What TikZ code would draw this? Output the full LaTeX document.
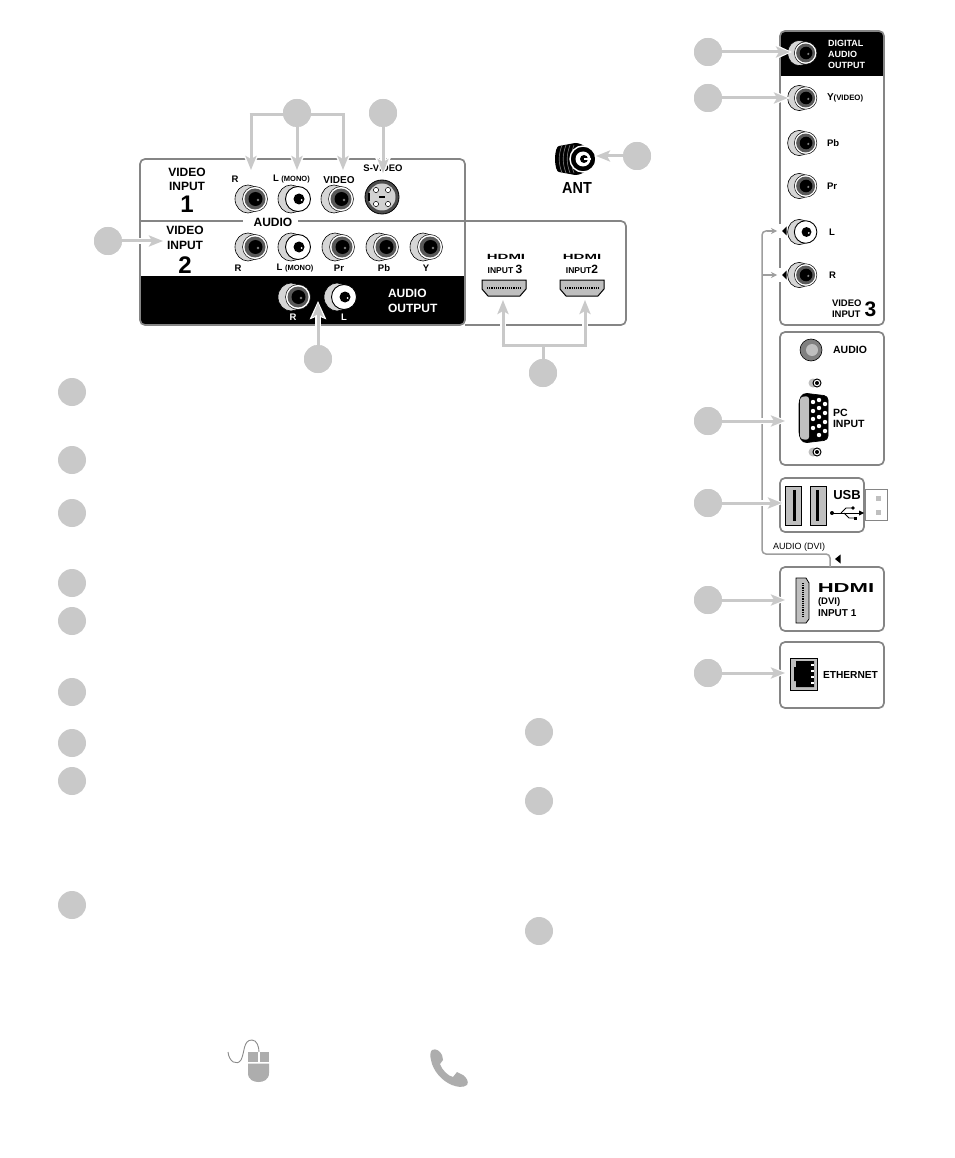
\documentclass[tikz,border=0pt]{standalone}
\usepackage{fontspec}
\setmainfont{Liberation Sans}
\usetikzlibrary{arrows.meta}
\definecolor{callout}{gray}{0.79}
\definecolor{panelline}{gray}{0.52}
\definecolor{wirecol}{gray}{0.62}
\definecolor{portfill}{gray}{0.75}
\definecolor{iconfill}{gray}{0.68}
\definecolor{crescent}{gray}{0.84}
\newcounter{lb}
\newcommand\lab[4][black]{\stepcounter{lb}\node[lbl,text=#1,font=\bfseries\fontsize{#4}{#4}\selectfont] (lb\arabic{lb}) at (#2) {#3};}
\newcommand\labl[4][black]{\stepcounter{lb}\node[lbl,anchor=west,text=#1,font=\bfseries\fontsize{#4}{#4}\selectfont] (lb\arabic{lb}) at (#2) {#3};}
\newcommand\hdmilogo[3]{\stepcounter{lb}\node[lbl,font=\bfseries\fontsize{#2}{#2}\selectfont] (lb\arabic{lb}) at (#1) {\scalebox{#3}[1]{HDMI}};}
% x y scale
\newcommand\darkjack[3]{\begin{scope}[shift={(#1,#2)},scale=#3]
 \path[jackline,fill=crescent] (-3,0) ellipse [x radius=13,y radius=14];
 \path[fill=white,draw=black,line width=.5pt] (4,0) circle [radius=12.5];
 \path[fill=gray!70!black] (4,0) circle [radius=10.5];
 \path[fill=black] (4.5,0) circle [radius=7];
 \path[fill=gray] (7,1) circle [radius=1.3];
\end{scope}}
\newcommand\whitejack[3]{\begin{scope}[shift={(#1,#2)},scale=#3]
 \path[jackline,fill=crescent] (-3,0) ellipse [x radius=13,y radius=14];
 \path[fill=white,draw=black,line width=.9pt] (4,0) circle [radius=12.5];
 \path[fill=black] (5,0) circle [radius=5.5];
 \path[fill=white] (7.5,1) circle [radius=1];
\end{scope}}
\newcommand\hdmih[2]{\begin{scope}[shift={(#1,#2)}]
 \path[jackline,fill=portfill,line width=1pt] (-22,-8)--(22,-8)--(22,1)--(16,8)--(-16,8)--(-22,1)--cycle;
 \draw[black,line width=1.6pt,dash pattern=on 1.2pt off 1pt] (-17,0)--(17,0);
\end{scope}}
\tikzset{
 x=1pt,y=-1pt,
 lbl/.style={inner sep=0pt,outer sep=0pt},
 jackline/.style={draw=black,line width=.6pt},
 callnode/.style={circle,fill=callout,minimum size=28pt,inner sep=0pt,outer sep=0pt},
 halo/.style={preaction={draw=white,line width=6pt,-{Stealth[length=18pt,width=16pt,inset=3pt]},shorten >=-2pt}},
 callarrow/.style={draw=callout,line width=3pt,-{Stealth[length=14pt,width=11pt,inset=3pt]},halo},
 callline/.style={draw=callout,line width=3pt},
 panel/.style={draw=panelline,line width=1.7pt,rounded corners=5pt},
 wire/.style={draw=wirecol,line width=1.5pt,rounded corners=4pt},
 wirearrow/.style={draw=wirecol,line width=1.5pt,-{Stealth[length=6pt,width=6pt]}},
 speaker/.style={fill=black}
}
\begin{document}
\begin{tikzpicture}
\useasboundingbox (0,0) rectangle (954,1158);
\fill[white] (0,0) rectangle (954,1158);

% ---------- main back panel ----------
\fill[black,rounded corners=5pt] (140,276) rectangle (465,325);
\fill[black] (140,276) rectangle (465,290);
\path[panel] (140,159) rectangle (465,325);
\path[panel] (465,221) -- (626,221) -- (626,325) -- (465,325);
\draw[panelline,line width=1.5pt] (140,221) -- (243,221);
\draw[panelline,line width=1.5pt] (298,221) -- (465,221);

% row 1 jacks
\darkjack{251}{199}{1}
\whitejack{294}{199}{1}
\darkjack{337}{199}{1}
\begin{scope}[shift={(382,197)}]
 \path[draw=black,fill=gray!60!black,line width=.8pt] (0,0) circle [radius=17];
 \path[fill=gray!35] (0,0) circle [radius=13.5];
 \foreach \a/\b in {-6/-7,6/-7,-6/7,6/7}{\path[fill=white,draw=black,line width=.5pt] (\a,\b) circle [radius=2.6];}
 \fill[black] (-14,-4) rectangle (-12.5,4);
 \fill[black] (-3,-1) rectangle (3,1);
\end{scope}
% row 2 jacks
\darkjack{251}{247}{1}
\whitejack{294}{247}{1}
\darkjack{338}{247}{1}
\darkjack{382}{247}{1}
\darkjack{426}{247}{1}
% audio output
\darkjack{294}{297}{1}
\whitejack{340}{297}{1}

% main labels
\lab{187,172}{VIDEO}{12}
\lab{187,186}{INPUT}{12}
\lab{187,204}{1}{24}
\lab{185,230}{VIDEO}{12}
\lab{185,245}{INPUT}{12}
\lab{185,265}{2}{24}
\lab{235,179}{R}{9.5}
\labl{273,179}{L \fontsize{7.5}{7.5}\selectfont(MONO)}{9.5}
\lab{339,180}{VIDEO}{10}
\lab{383,168}{S-VIDEO}{9.5}
\lab{273,222}{AUDIO}{12}
\lab{238,268}{R}{9.5}
\lab{295,268}{L \fontsize{7.5}{7.5}\selectfont(MONO)}{9.5}
\lab{339,268}{Pr}{9.5}
\lab{384,268}{Pb}{9.5}
\lab{426,268}{Y}{9.5}
\lab[white]{293,317}{R}{9.5}
\lab[white]{344,317}{L}{9.5}
\labl[white]{388,293}{AUDIO}{12}
\labl[white]{388,308}{OUTPUT}{12}

% HDMI 3 and 2
\hdmilogo{506,257}{7.5}{2}
\hdmilogo{582,257}{7.5}{2}
\lab{505,269}{INPUT \fontsize{12}{12}\selectfont 3}{8.5}
\lab{582,269}{INPUT\fontsize{12}{12}\selectfont 2}{8.5}
\hdmih{504}{288}
\hdmih{582}{288}

% ANT
\begin{scope}[shift={(578,159)}]
 \path[fill=black] (-19,-13) -- (-3,-16) arc[start angle=-90,end angle=90,radius=16] -- (-19,13) arc[start angle=90,end angle=270,x radius=4,y radius=13] -- cycle;
 \foreach \x in {-16,-12,-8,-4}{\draw[gray,line width=.6pt] (\x,-14) to[bend right=20] (\x,14);}
 \path[fill=black,draw=white,line width=1.4pt] (5,0) circle [radius=13];
 \path[fill=white] (5,0) circle [radius=7.5];
 \path[fill=black] (6,0) circle [radius=4];
 \fill[white] (6,-1) rectangle (13,1);
\end{scope}
\stepcounter{lb}\node[lbl,font=\bfseries\fontsize{16}{16}\selectfont] (lb\arabic{lb}) at (577,188) {\scalebox{.9}[1]{ANT}};

% ---------- right column ----------
\fill[black,rounded corners=5pt] (780,31) rectangle (884,60);
\fill[black] (780,45) rectangle (884,76);
\path[panel] (780,31) rectangle (884,325);
\path[panel] (780,332) rectangle (884,465);
\path[panel] (780,478) rectangle (864,532);
\draw[panelline,line width=1pt] (865,489) rectangle (887,520);
\path[panel] (780,567) rectangle (884,631);
\path[panel] (780,642) rectangle (884,708);

\darkjack{802}{53}{.9}
\darkjack{802}{98}{.9}
\darkjack{802}{143}{.9}
\darkjack{802}{186}{.9}
\whitejack{802}{232}{.9}
\darkjack{802}{275}{.9}

\labl[white]{828,43}{DIGITAL}{9}
\labl[white]{828,54}{AUDIO}{9}
\labl[white]{828,65}{OUTPUT}{9}
\labl{827,98}{Y\fontsize{7.8}{7.8}\selectfont(VIDEO)}{10}
\labl{827,143}{Pb}{9.5}
\labl{827,186}{Pr}{9.5}
\labl{829,232}{L}{9.5}
\labl{829,275}{R}{9.5}
\labl{832,303}{VIDEO}{9.5}
\labl{832,314}{INPUT}{9.5}
\lab{870.5,309}{3}{21}

% pc panel
\begin{scope}[shift={(812,350)}]
 \path[draw=black,fill=gray,line width=.6pt] (-1,0) circle [radius=11];
 \path[fill=portfill] (0,0) circle [radius=6];
\end{scope}
\lab{850,350}{AUDIO}{10.5}
\labl{833,413}{PC}{10.5}
\labl{833,424}{INPUT}{10.5}
\foreach \y in {383,452}{
 \path[fill=gray!50] (813,\y) circle [radius=4.5];
 \path[fill=white,draw=black,line width=1pt] (817,\y) circle [radius=4];
 \path[fill=black] (817,\y) circle [radius=2];
}
\path[draw=black,fill=black,line width=.7pt,rounded corners=4pt] (803,393) -- (828,396) -- (828,440) -- (803,443) -- (799,436) -- (799,400) -- cycle;
\path[fill=portfill,rounded corners=3pt] (800,397) -- (809,396) -- (809,440) -- (800,439) -- cycle;
\foreach \x/\ys in {813/{402,411,419,428},819/{400,408,417,426,435},825/{404,413,422,431}}{
 \foreach \y in \ys {\path[fill=white] (\x,\y) circle [radius=2.2];}
}

% usb
\foreach \x in {785,810}{
 \path[draw=black,fill=portfill,line width=.8pt] (\x,486) rectangle ++(16,39);
}
\fill[black] (793,490) rectangle (796,521);
\fill[black] (816,490) rectangle (819,521);
\lab{847,495}{USB}{13}
\begin{scope}[shift={(847,513)}]
 \draw[black,line width=1pt] (-15,0) -- (15,0);
 \draw[black,line width=.9pt] (-6,0) -- (-1,-5) -- (6,-5);
 \draw[black,line width=.9pt] (-3,0) -- (2,5) -- (7,5);
 \fill[black] (-15,0) circle [radius=2];
 \fill[black] (12,-2.5) -- (17,0) -- (12,2.5) -- cycle;
 \fill[black] (6,-5) circle [radius=1.8];
 \fill[black] (6.5,3.5) rectangle (9.5,6.5);
\end{scope}
\fill[portfill] (875.5,495.5) rectangle (880.5,500.5);
\fill[portfill] (875.5,509.5) rectangle (880.5,514.5);

% audio dvi wire
\stepcounter{lb}\node[lbl,font=\fontsize{9}{9}\selectfont] (lb\arabic{lb}) at (799,547) {AUDIO (DVI)};
\coordinate (wirebottom) at (830,567);
\coordinate (wireL) at (777,231);
\coordinate (wireR) at (777,275);
\coordinate (wireTop) at (762,231);
\coordinate (wireR0) at (762,275);
\coordinate (wireCorner) at (762,554);
\coordinate (wireCorner2) at (830,554);
\fill[white] (777,224) rectangle (787,238);
\fill[white] (777,268) rectangle (787,282);
\path[wire] (wirebottom) -- (wireCorner2) -- (wireCorner) -- (wireTop) -- (768,231);
\draw[wirearrow] (wireTop) ++(5,0) -- (wireL);
\draw[wirearrow] (wireR0) -- (wireR);
\fill[speaker] (782,231) -- (786.5,226.5) -- (786.5,235.5) -- cycle;
\fill[speaker] (782,275) -- (786.5,270.5) -- (786.5,279.5) -- cycle;
\fill[speaker] (835,559) -- (840.5,554.5) -- (840.5,563.5) -- cycle;

% hdmi 1
\path[draw=black,fill=portfill,line width=.8pt] (796,578) -- (806,578) -- (809,583) -- (809,619) -- (806,623) -- (796,623) -- cycle;
\draw[black,line width=1.8pt,dash pattern=on 1.2pt off 1pt] (803,583) -- (803,618);
\hdmilogo{846,588}{13}{1.7}
\labl{818,602}{(DVI)}{9.5}
\labl{818,613}{INPUT 1}{10}

% ethernet
\path[draw=black,fill=portfill,line width=.5pt] (790,658) rectangle (817,690);
\path[fill=black] (796,661) -- (814,661) -- (814,687) -- (796,687) -- (796,681) -- (794,681) -- (794,667) -- (796,667) -- cycle;
\foreach \y in {665,671,677,683}{\fill[white] (811,\y-1.2) rectangle (814,\y+1.2);}
\labl{823,675}{ETHERNET}{10.2}

% ---------- callouts ----------
\foreach \n/\p in {a/{297,113},b/{383,113},c/{637,156},d/{108,241},e/{318,359},f/{543,373},
 g/{708,52},h/{708,98},i/{708,421},j/{708,503},k/{708,600},l/{708,673}}{
 \coordinate (pos\n) at (\p);
}
\coordinate (tR) at (251,170);
\coordinate (tL) at (297,170);
\coordinate (tV) at (343,170);
\coordinate (cnrA) at (251,115);
\coordinate (cnrB) at (343,115);
\coordinate (tS) at (383,173);
\coordinate (tAnt) at (596,156);
\coordinate (tIn2) at (163,241);
\coordinate (tOut) at (318,303);
\coordinate (tH3) at (503,300);
\coordinate (tH2) at (585,300);
\coordinate (cnrC) at (503,345);
\coordinate (cnrD) at (585,345);
\coordinate (tDig) at (790,52);
\coordinate (tVid) at (788,98);
\coordinate (tPc) at (785,421);
\coordinate (tUsb) at (782,503);
\coordinate (tHd) at (785,600);
\coordinate (tEth) at (785,673);

\node[callnode] (a) at (posa) {};
\node[callnode] (b) at (posb) {};
\node[callnode] (c) at (posc) {};
\node[callnode] (d) at (posd) {};
\node[callnode] (e) at (pose) {};
\node[callnode] (f) at (posf) {};
\node[callnode] (g) at (posg) {};
\node[callnode] (h) at (posh) {};
\node[callnode] (i) at (posi) {};
\node[callnode] (j) at (posj) {};
\node[callnode] (k) at (posk) {};
\node[callnode] (l) at (posl) {};

\draw[callarrow] (cnrA) -- (tR);
\draw[callarrow] (a.center) -- (tL);
\draw[callarrow] (cnrB) -- (tV);
\draw[callline] (249.5,115) -- (344.5,115);
\draw[callarrow] (b.center) -- (tS);
\draw[callarrow] (c.center) -- (tAnt);
\draw[callarrow] (d.center) -- (tIn2);
\draw[callarrow] (e.center) -- (tOut);
\draw[callarrow] (cnrC) -- (tH3);
\draw[callarrow] (cnrD) -- (tH2);
\draw[callline] (501.5,345) -- (586.5,345);
\draw[callline] (f.center) -- (543,345);
\draw[callarrow] (g.center) -- (tDig);
\draw[callarrow] (h.center) -- (tVid);
\draw[callarrow] (i.center) -- (tPc);
\draw[callarrow] (j.center) -- (tUsb);
\draw[callarrow] (k.center) -- (tHd);
\draw[callarrow] (l.center) -- (tEth);
% redraw discs over halos
\foreach \n in {a,b,c,d,e,f,g,h,i,j,k,l}{\fill[callout] (\n) circle [radius=14];}

% list markers
\foreach \n/\y in {m1/392,m2/460,m3/513,m4/583,m5/621,m6/692,m7/743,m8/781,m9/905}{
 \node[callnode] (\n) at (72,\y) {};
}
\foreach \n/\y in {n1/732,n2/801,n3/931}{
 \node[callnode] (\n) at (539,\y) {};
}

% mouse icon
\draw[iconfill!80!black,line width=.9pt] (228,1052) .. controls (229,1062) and (237,1066) .. (241,1060) .. controls (245,1052) and (243,1040) .. (252,1040) .. controls (257,1040) and (259,1047) .. (259,1052);
\path[fill=iconfill] (248,1052) -- (258,1052) -- (258,1062) -- (248,1062) -- cycle;
\path[fill=iconfill] (260,1052) -- (269,1052) -- (269,1062) -- (260,1062) -- cycle;
\path[fill=iconfill] (248,1063.5) -- (269,1063.5) -- (269,1073) .. controls (269,1080) and (263,1082) .. (258.5,1082) .. controls (254,1082) and (248,1080) .. (248,1073) -- cycle;
% phone icon
\path[fill=iconfill] (432,1050) .. controls (436,1048) and (440,1051) .. (442,1055) -- (443,1060) -- (440,1064) .. controls (442,1070) and (448,1076) .. (453,1077) -- (457,1072) -- (463,1075) .. controls (467,1078) and (469,1082) .. (467,1085) .. controls (463,1088) and (457,1087) .. (452,1085) .. controls (442,1081) and (433,1071) .. (431,1060) .. controls (430,1056) and (430,1052) .. (432,1050) -- cycle;
\end{tikzpicture}
\end{document}
